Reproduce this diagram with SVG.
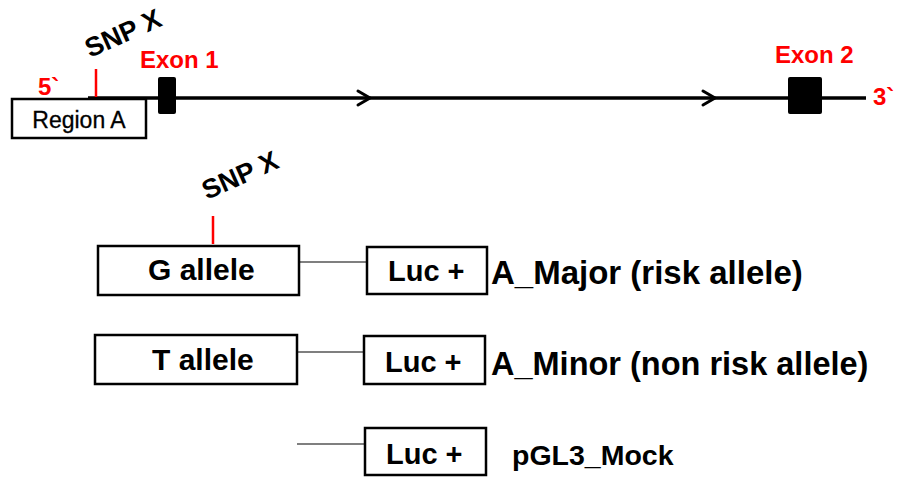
<svg xmlns="http://www.w3.org/2000/svg" width="897" height="477" viewBox="0 0 897 477">
  <style>
    .lbl { font-family: "Liberation Sans", Arial, sans-serif; font-weight: bold; fill: #000; }
    .red { font-family: "Liberation Sans", Arial, sans-serif; font-weight: bold; fill: #ff0000; }
    .box { fill: #fff; stroke: #000; stroke-width: 2.5; }
    .exon { fill: #000; }
    .snp { stroke: #ff0000; stroke-width: 2.5; }
    .gene { stroke: #000; stroke-width: 3.5; fill: none; }
    .chev { stroke: #000; stroke-width: 3; fill: none; stroke-linecap: round; stroke-linejoin: miter; }
    .link { stroke: #555; stroke-width: 1.3; }
  </style>
  <rect width="897" height="477" fill="#fff"/>

  <!-- gene locus -->
  <g id="locus">
    <line class="gene" x1="88" y1="98" x2="866" y2="98"/>
    <polyline class="chev" points="358,91 370,98 358,105"/>
    <polyline class="chev" points="703,91 715,98 703,105"/>
    <text class="red" x="38" y="95" font-size="24">5`</text>
    <text class="red" x="873" y="105" font-size="24">3`</text>
  </g>

  <g id="region-a">
    <rect class="box" x="12" y="99" width="134" height="39" stroke-width="2"/>
    <text x="79" y="128" font-size="23" text-anchor="middle" font-family="Liberation Sans, Arial, sans-serif" fill="#000" stroke="#000" stroke-width="0.3">Region A</text>
  </g>

  <g id="snp-x-top">
    <line class="snp" x1="96" y1="69" x2="96" y2="97"/>
    <text class="lbl" font-size="27" transform="translate(90,58) rotate(-24)">SNP X</text>
  </g>

  <g id="exon-1">
    <rect class="exon" x="158" y="77" width="18" height="37" rx="2"/>
    <text class="red" x="140" y="68" font-size="24">Exon 1</text>
  </g>

  <g id="exon-2">
    <rect class="exon" x="788" y="77" width="34" height="37" rx="2"/>
    <text class="red" x="775" y="63" font-size="24">Exon 2</text>
  </g>

  <!-- reporter constructs -->
  <g id="connectors">
    <line class="link" x1="299" y1="262" x2="367" y2="262"/>
    <line class="link" x1="297" y1="352" x2="364" y2="352" stroke="#000"/>
    <line class="link" x1="297" y1="444" x2="365" y2="444"/>
  </g>

  <g id="snp-x-construct">
    <line class="snp" x1="213" y1="216" x2="213" y2="244"/>
    <text class="lbl" font-size="27" transform="translate(207,200) rotate(-24)">SNP X</text>
  </g>

  <g id="g-allele">
    <rect class="box" x="98" y="246" width="201" height="49"/>
    <text class="lbl" x="148" y="280" font-size="30">G allele</text>
  </g>
  <g id="luc-1">
    <rect class="box" x="367" y="247" width="120" height="47"/>
    <text class="lbl" x="388" y="281" font-size="29">Luc +</text>
  </g>
  <text class="lbl" id="label-major" x="491" y="284" font-size="33">A_Major (risk allele)</text>

  <g id="t-allele">
    <rect class="box" x="95" y="335" width="202" height="49"/>
    <text class="lbl" x="152" y="370" font-size="30">T allele</text>
  </g>
  <g id="luc-2">
    <rect class="box" x="364" y="336" width="121" height="48"/>
    <text class="lbl" x="385" y="372" font-size="29">Luc +</text>
  </g>
  <text class="lbl" id="label-minor" x="491" y="375" font-size="32.5">A_Minor (non risk allele)</text>

  <g id="luc-3">
    <rect class="box" x="365" y="428" width="121" height="47"/>
    <text class="lbl" x="386" y="464" font-size="29">Luc +</text>
  </g>
  <text class="lbl" id="label-mock" x="512" y="465" font-size="28.5">pGL3_Mock</text>
</svg>
